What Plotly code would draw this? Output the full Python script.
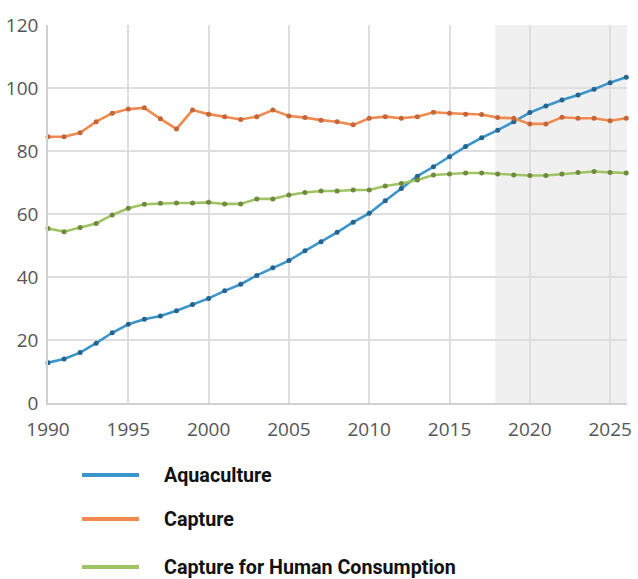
import plotly.graph_objects as go

years = list(range(1990, 2027))
aquaculture = [12.8, 14.0, 16.0, 19.0, 22.3, 25.0, 26.6, 27.6, 29.3, 31.3,
               33.2, 35.6, 37.7, 40.5, 42.9, 45.2, 48.3, 51.2, 54.2, 57.4,
               60.2, 64.2, 68.1, 72.0, 75.0, 78.2, 81.4, 84.2, 86.6, 89.3,
               92.2, 94.3, 96.2, 97.8, 99.6, 101.7, 103.4]
capture = [84.5, 84.5, 85.8, 89.3, 92.0, 93.3, 93.7, 90.2, 87.0, 93.0,
           91.7, 90.9, 90.0, 90.9, 93.0, 91.1, 90.6, 89.8, 89.3, 88.3,
           90.4, 90.9, 90.4, 90.9, 92.3, 92.0, 91.7, 91.6, 90.6, 90.4,
           88.6, 88.6, 90.7, 90.4, 90.4, 89.6, 90.4]
human = [55.4, 54.4, 55.7, 57.0, 59.7, 61.8, 63.1, 63.4, 63.5, 63.5,
         63.7, 63.2, 63.2, 64.8, 64.8, 66.0, 66.8, 67.3, 67.3, 67.6,
         67.6, 68.9, 69.7, 70.8, 72.4, 72.7, 73.0, 73.0, 72.7, 72.4,
         72.2, 72.2, 72.7, 73.2, 73.5, 73.2, 73.0]

series_names = ["Aquaculture", "Capture", "Capture for Human Consumption"]
line_colors = ["#3a95cc", "#f08a4e", "#a0c463"]
marker_colors = ["#24658f", "#c4653a", "#70893f"]
x_ticks = [1990, 1995, 2000, 2005, 2010, 2015, 2020, 2025]
y_ticks = [0, 20, 40, 60, 80, 100, 120]
projection_start = 2017.85

fig = go.Figure()
for name, vals, lc, mc in zip(series_names, [aquaculture, capture, human], line_colors, marker_colors):
    fig.add_trace(go.Scatter(
        x=years, y=vals, name=name, mode="lines+markers",
        line=dict(color=lc, width=2.6),
        marker=dict(color=mc, size=5),
        cliponaxis=False, showlegend=False,
    ))

fig.add_shape(type="rect", xref="x", yref="y", x0=projection_start, x1=2026.05,
              y0=0, y1=120, fillcolor="#f0f0f0", line=dict(width=0), layer="below")

# manual legend
leg_y = [-0.1905, -0.3069, -0.4339]
for name, lc, yy in zip(series_names, line_colors, leg_y):
    fig.add_shape(type="line", xref="paper", yref="paper", x0=0.0587, x1=0.1572,
                  y0=yy, y1=yy, line=dict(color=lc, width=4))
    fig.add_annotation(xref="paper", yref="paper", x=0.1969, y=yy, text="<b>%s</b>" % name,
                       showarrow=False, xanchor="left", yanchor="middle",
                       font=dict(family="Roboto", size=19.7, color="#111"))

fig.update_xaxes(range=[1990, 2026.05], tickvals=x_ticks, showgrid=True,
                 gridcolor="#dedede", gridwidth=1.5, zeroline=False,
                 showline=True, linecolor="#d0d0d0", linewidth=1.5,
                 ticks="", ticklabelstandoff=8, automargin=False,
                 tickfont=dict(family="Open Sans", size=19, color="#555"))
fig.update_yaxes(range=[0, 120], tickvals=y_ticks, showgrid=True,
                 gridcolor="#dedede", gridwidth=1.5, zeroline=False,
                 showline=True, linecolor="#d0d0d0", linewidth=1.5,
                 ticks="", ticklabelstandoff=4, automargin=False,
                 tickfont=dict(family="Open Sans", size=19, color="#555"))

fig.update_layout(width=638, height=579, margin=dict(l=48, r=11, t=25, b=176),
                  plot_bgcolor="white", paper_bgcolor="white", showlegend=False,
                  hovermode=False)

fig.write_html("out.html", config={"displayModeBar": False},
               post_script="document.body.style.margin='0';document.body.style.overflow='hidden';")
